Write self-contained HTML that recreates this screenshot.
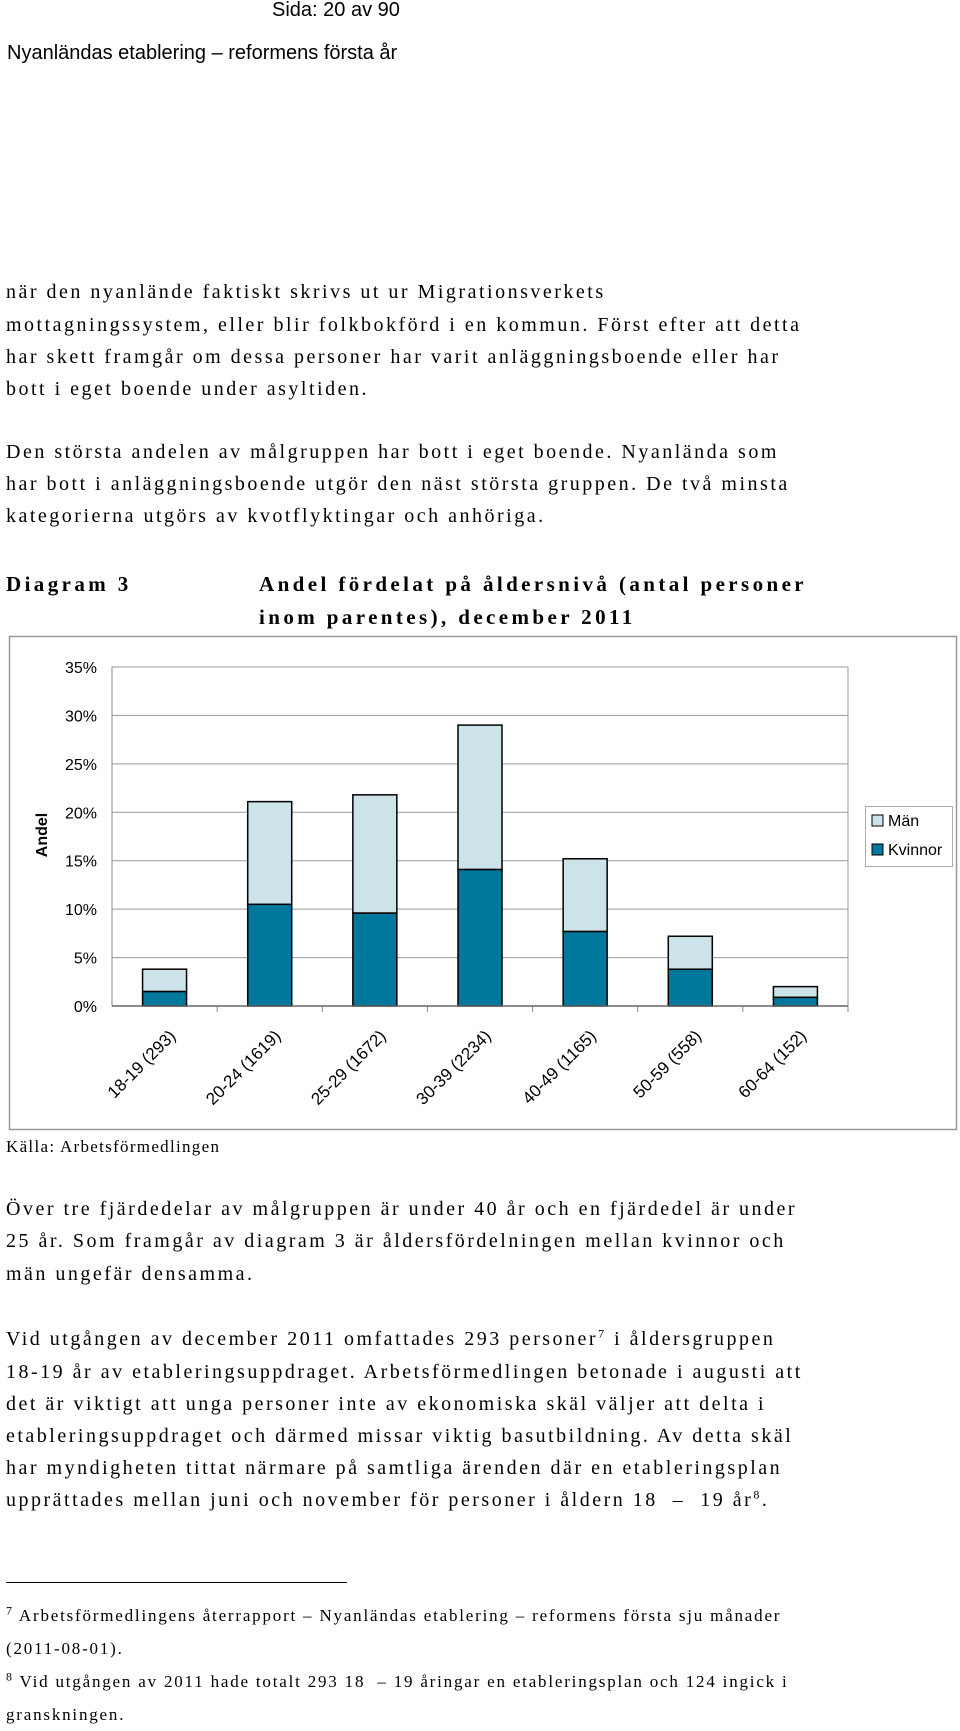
<!DOCTYPE html>
<html><head><meta charset="utf-8"><style>
body{margin:0;width:960px;height:1731px;background:#fff;position:relative;overflow:hidden;font-family:"Liberation Serif",serif;color:#000}
.t{position:absolute;left:6px;white-space:nowrap;font-size:20px;letter-spacing:2.5px;line-height:24px}
.s{font-family:"Liberation Sans",sans-serif;letter-spacing:0}
.f{font-size:17px;letter-spacing:1.8px}
.h{font-weight:bold;font-size:21px;letter-spacing:3.4px}
sup{font-size:12px;line-height:0}
</style></head><body>
<div class="t s" style="left:272px;top:-2px;font-size:20px">Sida: 20 av 90</div>
<div class="t s" style="left:7px;top:41px;font-size:20px">Nyanländas etablering – reformens första år</div>
<div>
<div class="t" style="top:280px">när den nyanlände faktiskt skrivs ut ur Migrationsverkets</div>
<div class="t" style="top:313px">mottagningssystem, eller blir folkbokförd i en kommun. Först efter att detta</div>
<div class="t" style="top:345px">har skett framgår om dessa personer har varit anläggningsboende eller har</div>
<div class="t" style="top:377px">bott i eget boende under asyltiden.</div>
</div>
<div>
<div class="t" style="top:440px">Den största andelen av målgruppen har bott i eget boende. Nyanlända som</div>
<div class="t" style="top:472px">har bott i anläggningsboende utgör den näst största gruppen. De två minsta</div>
<div class="t" style="top:504px">kategorierna utgörs av kvotflyktingar och anhöriga.</div>
</div>
<div class="t h" style="top:572px">Diagram 3</div>
<div class="t h" style="left:259px;top:572px">Andel fördelat på åldersnivå (antal personer</div>
<div class="t h" style="left:259px;top:605px">inom parentes), december 2011</div>

<svg id="chart" width="960" height="1731" style="position:absolute;left:0;top:0" font-family="Liberation Sans, sans-serif"></svg>

<div class="t" style="top:1135px;font-size:17px;letter-spacing:1.3px">Källa: Arbetsförmedlingen</div>
<div>
<div class="t" style="top:1197px">Över tre fjärdedelar av målgruppen är under 40 år och en fjärdedel är under</div>
<div class="t" style="top:1229px">25 år. Som framgår av diagram 3 är åldersfördelningen mellan kvinnor och</div>
<div class="t" style="top:1262px">män ungefär densamma.</div>
</div>
<div>
<div class="t" style="top:1327px">Vid utgången av december 2011 omfattades 293 personer<sup>7</sup> i åldersgruppen</div>
<div class="t" style="top:1360px">18-19 år av etableringsuppdraget. Arbetsförmedlingen betonade i augusti att</div>
<div class="t" style="top:1392px">det är viktigt att unga personer inte av ekonomiska skäl väljer att delta i</div>
<div class="t" style="top:1424px">etableringsuppdraget och därmed missar viktig basutbildning. Av detta skäl</div>
<div class="t" style="top:1456px">har myndigheten tittat närmare på samtliga ärenden där en etableringsplan</div>
<div class="t" style="top:1488px">upprättades mellan juni och november för personer i åldern 18 &nbsp;– &nbsp;19 år<sup>8</sup>.</div>
</div>
<div style="position:absolute;left:6px;top:1582px;width:341px;height:1px;background:#000"></div>
<div>
<div class="t f" style="top:1604px"><sup>7</sup> Arbetsförmedlingens återrapport – Nyanländas etablering – reformens första sju månader</div>
<div class="t f" style="top:1637px">(2011-08-01).</div>
</div>
<div>
<div class="t f" style="top:1670px"><sup>8</sup> Vid utgången av 2011 hade totalt 293 18 &nbsp;– 19 åringar en etableringsplan och 124 ingick i</div>
<div class="t f" style="top:1703px">granskningen.</div>
</div>
<script>
const categories=["18-19 (293)","20-24 (1619)","25-29 (1672)","30-39 (2234)","40-49 (1165)","50-59 (558)","60-64 (152)"];
const kvinnor=[1.5,10.5,9.6,14.1,7.7,3.8,0.9];
const man=[2.3,10.6,12.2,14.9,7.5,3.4,1.1];
const yTicks=[0,5,10,15,20,25,30,35];
const NS="http://www.w3.org/2000/svg";
const svg=document.getElementById('chart');
const L=112,R=848,T=667,B=1006,yMax=35;
const y=v=>B-(v/yMax)*(B-T);
const bw=(R-L)/categories.length;
const x=i=>L+bw*i+bw/2;
function mk(tag,at,txt){const e=document.createElementNS(NS,tag);for(const k in at)e.setAttribute(k,at[k]);if(txt!=null)e.textContent=txt;svg.appendChild(e);return e;}
let e;
e=mk('rect',{x:9.5,y:636.5,width:947,height:493,fill:'#fff',stroke:'#999','stroke-width':1.5});


yTicks.forEach(t=>{
 e=mk('line',{x1:L,x2:R,y1:y(t),y2:y(t),stroke:'#999','stroke-width':1});
 
 
 e=mk('text',{x:97,y:y(t)+6,'text-anchor':'end','font-size':16,fill:'#000'},t+'%');
 
 
});
e=mk('line',{x1:L,x2:L,y1:T,y2:B,stroke:'#888'});


e=mk('line',{x1:R,x2:R,y1:T,y2:B,stroke:'#999'});


e=mk('text',{x:0,y:0,'font-size':16,'font-weight':'bold','text-anchor':'middle',transform:'translate(47,835) rotate(-90)'},'Andel');


categories.forEach((c,i)=>{
 const cx=x(i),w=44;
 e=mk('rect',{x:cx-w/2,y:y(kvinnor[i]),width:w,height:B-y(kvinnor[i]),fill:'#00789c',stroke:'#000','stroke-width':1.5});
 
 
 e=mk('rect',{x:cx-w/2,y:y(kvinnor[i]+man[i]),width:w,height:y(kvinnor[i])-y(kvinnor[i]+man[i]),fill:'#cde3ea',stroke:'#000','stroke-width':1.5});
 
 
 e=mk('line',{x1:L+bw*(i+1),x2:L+bw*(i+1),y1:B,y2:B+6,stroke:'#888'});
 
 
 e=mk('text',{x:0,y:0,'font-size':17,'text-anchor':'end',transform:`translate(${cx+12},${B+31}) rotate(-45)`},c);
 
 
});
e=mk('line',{x1:L,x2:R,y1:B,y2:B,stroke:'#666','stroke-width':1.5});


e=mk('rect',{x:865.5,y:806.5,width:87,height:60,fill:'#fff',stroke:'#aaa'});


[['Män','#cde3ea',825],['Kvinnor','#00789c',854]].forEach(([n,col,yy])=>{
 e=mk('rect',{x:872,y:yy-10,width:11,height:11,fill:col,stroke:'#000'});
 
 
 e=mk('text',{x:888,y:yy+1,'font-size':16},n);
 
 
});
</script>
</body></html>
